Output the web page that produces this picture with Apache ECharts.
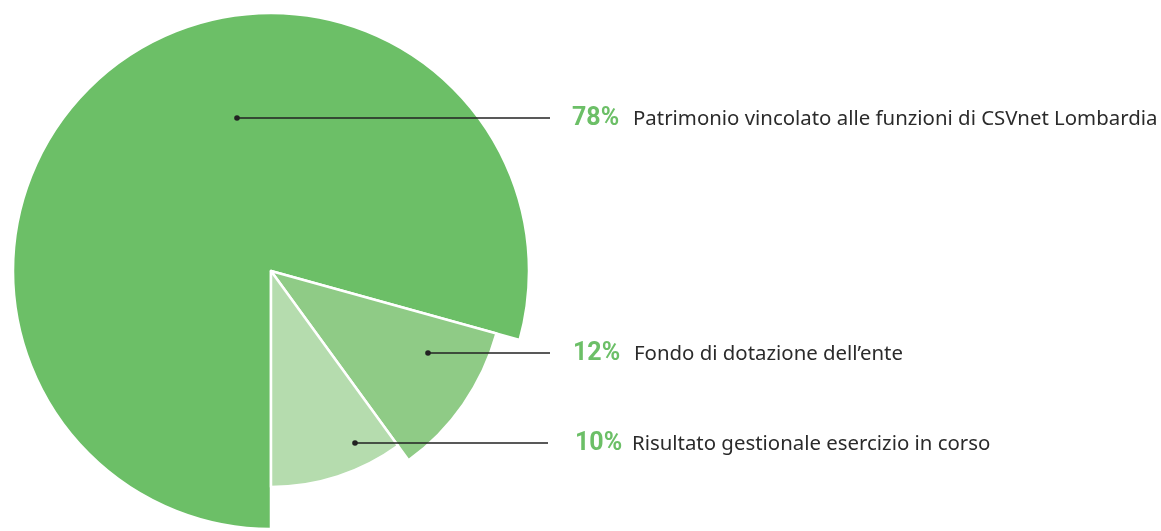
<!DOCTYPE html>
<html>
<head>
<meta charset="utf-8">
<script src="https://cdn.jsdelivr.net/npm/echarts@6/dist/echarts.min.js"></script>
<style>
  html, body { margin: 0; padding: 0; background: #fff; }
  #chart { width: 1161px; height: 531px; }
</style>
</head>
<body>
<div id="chart"></div>
<script>
  // dati (ampiezze, etichette come riportate)
  const categories = ['Patrimonio vincolato alle funzioni di CSVnet Lombardia', 'Fondo di dotazione dell\u2019ente', 'Risultato gestionale esercizio in corso']
  const values = [79.3, 10.7, 10.0]
  const percentLabels = ['78%', '12%', '10%']

  // stile / posizioni delle etichette
  const colors = ['#6cbf67', '#8fcb86', '#b5dcae']
  const radii = [258, 234, 216]
  const dots = [[237, 118], [428, 353], [355, 443]]
  const lineEnd = [550, 550, 548]
  const textX = [572, 573, 575]
  const nameX = [633, 634, 632]

  let myChart = echarts.init(document.getElementById('chart'))

  let series = []
  for (let s = 0; s < values.length; s++) {
    let data = []
    for (let i = 0; i < values.length; i++) {
      if (i === s) {
        data.push({
          name: categories[i],
          value: values[i],
          itemStyle: { color: colors[i], borderColor: '#fff', borderWidth: 2.5 },
          label: { show: true }
        })
      } else {
        // segnaposto trasparente, serve solo per gli angoli
        data.push({
          name: categories[i],
          value: values[i],
          itemStyle: { color: 'rgba(0,0,0,0)', borderWidth: 0 },
          label: { show: false }
        })
      }
    }
    series.push({
      type: 'pie',
      center: [271, 271],
      radius: [0, radii[s]],
      startAngle: -90,
      clockwise: true,
      avoidLabelOverlap: false,
      silent: true,
      animation: false,
      z: 2 + s,
      labelLine: { show: false },
      label: {
        position: 'outside',
        formatter: (p) => '{p|' + percentLabels[p.dataIndex] + '}{n|' + p.name + '}',
        rich: {
          p: { fontFamily: 'Roboto', fontWeight: 'bold', fontSize: 25, color: '#6cbf67', width: nameX[s] - textX[s], align: 'left' },
          n: { fontFamily: 'Noto Sans', fontSize: 20.4, color: '#2b2b2b' }
        }
      },
      labelLayout: (params) => {
        let i = params.dataIndex
        return {
          x: textX[i],
          y: dots[i][1] + 1,
          align: 'left',
          verticalAlign: 'middle'
        }
      },
      data: data
    })
  }

  let graphics = []
  dots.forEach((d, i) => {
    graphics.push({
      type: 'line',
      z: 100,
      shape: { x1: d[0], y1: d[1], x2: lineEnd[i], y2: d[1] },
      style: { stroke: '#222', lineWidth: 1.3 }
    })
    graphics.push({
      type: 'circle',
      z: 101,
      shape: { cx: d[0], cy: d[1], r: 2.8 },
      style: { fill: '#222' }
    })
  })

  let option = {
    backgroundColor: '#fff',
    graphic: graphics,
    series: series
  }

  myChart.setOption(option)
</script>
</body>
</html>
